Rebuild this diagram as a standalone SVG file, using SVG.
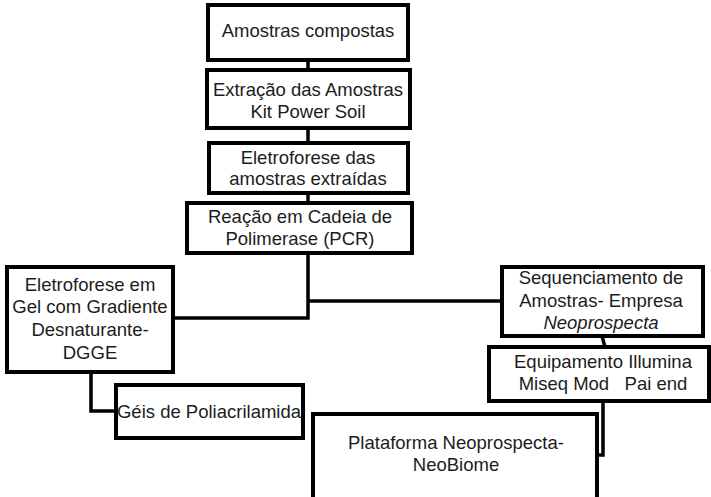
<svg xmlns="http://www.w3.org/2000/svg" width="711" height="497" viewBox="0 0 711 497">
<style>
.box{fill:#fff;stroke:#000;stroke-width:4}
.con{fill:none;stroke:#000;stroke-width:3.5}
text{font-family:"Liberation Sans",Arial,sans-serif;font-size:18.5px;fill:#1c1c1c;text-anchor:middle;white-space:pre}
</style>
<rect width="711" height="497" fill="#fff"/>
<g id="connectors">
<line class="con" x1="308" y1="60" x2="308" y2="70"/>
<line class="con" x1="308" y1="128" x2="308" y2="143"/>
<line class="con" x1="308" y1="193" x2="308" y2="203"/>
<polyline class="con" points="308,253 308,318 173,318"/>
<polyline class="con" points="308,301 502,301"/>
<polyline class="con" points="91,372 91,411 116,411"/>
<line class="con" x1="602" y1="336" x2="605" y2="347"/>
<polyline class="con" points="603,401 603,455 597,455"/>
</g>
<g id="n1"><rect class="box" x="208" y="5" width="200" height="55"/><text x="308" y="37">Amostras compostas</text></g>
<g id="n2"><rect class="box" x="207" y="70" width="203" height="58"/><text x="308" y="96">Extração das Amostras</text><text x="308" y="118">Kit Power Soil</text></g>
<g id="n3"><rect class="box" x="209" y="143" width="199" height="50"/><text x="308" y="164">Eletroforese das</text><text x="308" y="185">amostras extraídas</text></g>
<g id="n4"><rect class="box" x="187" y="203" width="225" height="50"/><text x="300" y="223">Reação em Cadeia de</text><text x="300" y="245">Polimerase (PCR)</text></g>
<g id="n5"><rect class="box" x="7" y="267" width="166" height="105"/><text x="90" y="291">Eletroforese em</text><text x="90" y="313">Gel com Gradiente</text><text x="90" y="336">Desnaturante-</text><text x="90" y="359">DGGE</text></g>
<g id="n6"><rect class="box" x="116" y="385" width="187" height="53"/><text x="209" y="418">Géis de Poliacrilamida</text></g>
<g id="n7"><rect class="box" x="502" y="267" width="201" height="69"/><text x="601" y="284">Sequenciamento de</text><text x="601" y="307">Amostras- Empresa</text><text x="601" y="329" font-style="italic">Neoprospecta</text></g>
<g id="n8"><rect class="box" x="489" y="347" width="220" height="54"/><text x="603" y="368">Equipamento Illumina</text><text x="603" y="390">Miseq Mod   Pai end</text></g>
<g id="n9"><rect class="box" x="313" y="414" width="284" height="100"/><text x="456" y="449">Plataforma Neoprospecta-</text><text x="456" y="471">NeoBiome</text></g>
</svg>
